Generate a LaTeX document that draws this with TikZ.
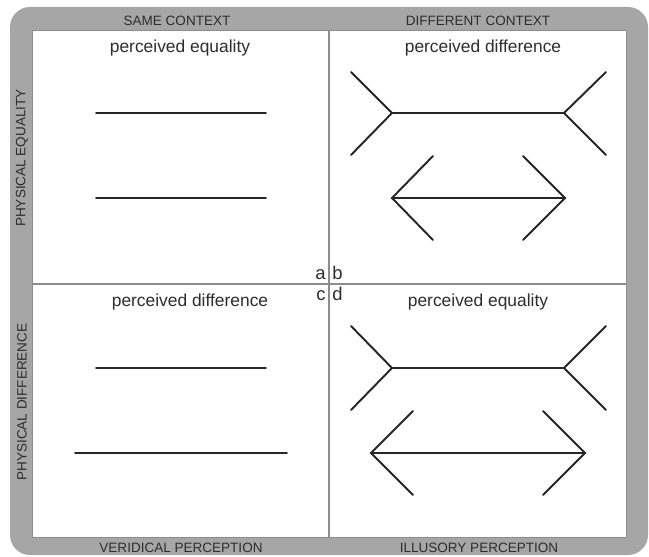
\documentclass[tikz,border=0pt]{standalone}
\usepackage{fontspec}
\setmainfont{Liberation Sans}
\usepackage{tikz}
\usepackage{xcolor}

\definecolor{framegray}{RGB}{166,166,166}
\definecolor{rulegray}{RGB}{140,140,140}
\definecolor{labelgray}{RGB}{45,45,45}

\tikzset{
  axislabel/.style={text=labelgray, font=\fontsize{7.7}{9}\selectfont, inner sep=0pt},
  quadtitle/.style={text=labelgray, font=\fontsize{9.9}{12}\selectfont, inner sep=0pt, anchor=base},
  cornerletter/.style={text=labelgray, font=\fontsize{10.5}{12}\selectfont, inner sep=0pt, anchor=base},
  figline/.style={line width=1.1pt, black!85, line cap=round, line join=miter}
}

\begin{document}
\begin{tikzpicture}[x=0.02cm, y=-0.02cm]
    \useasboundingbox (0,0) rectangle (649,557);

    % Frame and panel
    \fill[framegray, rounded corners=0.4cm] (10,7) rectangle (648,555);
    \draw[fill=white, draw=rulegray, line width=0.5pt] (32,30) rectangle (626,537);

    % Quadrant dividers
    \draw[rulegray, line width=0.6pt] (329,30) -- (329,537);
    \draw[rulegray, line width=0.6pt] (32,284) -- (626,284);

    % Column and row headings
    \node[axislabel] (same) at (177,21) {SAME CONTEXT};
    \node[axislabel] (different) at (478,21) {DIFFERENT CONTEXT};
    \node[axislabel] (veridical) at (181,548) {VERIDICAL PERCEPTION};
    \node[axislabel] (illusory) at (479,548) {ILLUSORY PERCEPTION};
    \node[axislabel, rotate=90] (physeq) at (22,158) {PHYSICAL EQUALITY};
    \node[axislabel, rotate=90] (physdiff) at (22,402) {PHYSICAL DIFFERENCE};

    % Quadrant titles
    \node[quadtitle] (titleA) at (180,53) {perceived equality};
    \node[quadtitle] (titleB) at (483,53) {perceived difference};
    \node[quadtitle] (titleC) at (190,306) {perceived difference};
    \node[quadtitle] (titleD) at (478,306) {perceived equality};

    % Quadrant letters
    \node[cornerletter, anchor=base east] (a) at (326,279) {a};
    \node[cornerletter, anchor=base west] (b) at (332,279) {b};
    \node[cornerletter, anchor=base east] (c) at (326,300) {c};
    \node[cornerletter, anchor=base west] (d) at (332,300) {d};

    % a: plain lines, same length
    \draw[figline] (96,113) -- (266,113);
    \draw[figline] (96,198) -- (266,198);

    % b: fins out over arrowheads, same length
    \draw[figline] (392,113) -- (564,113);
    \draw[figline] (351,72) -- (392,113) -- (351,155);
    \draw[figline] (606,72) -- (564,113) -- (606,155);
    \draw[figline] (392,198) -- (565,198);
    \draw[figline] (433,156) -- (392,198) -- (433,240);
    \draw[figline] (523,156) -- (565,198) -- (523,240);

    % c: plain lines, different length
    \draw[figline] (96,368) -- (266,368);
    \draw[figline] (75,453) -- (287,453);

    % d: fins out over longer arrowheads
    \draw[figline] (392,368) -- (564,368);
    \draw[figline] (351,326) -- (392,368) -- (351,410);
    \draw[figline] (606,326) -- (564,368) -- (606,410);
    \draw[figline] (371,453) -- (585,453);
    \draw[figline] (413,411) -- (371,453) -- (413,495);
    \draw[figline] (543,411) -- (585,453) -- (543,495);
\end{tikzpicture}
\end{document}
